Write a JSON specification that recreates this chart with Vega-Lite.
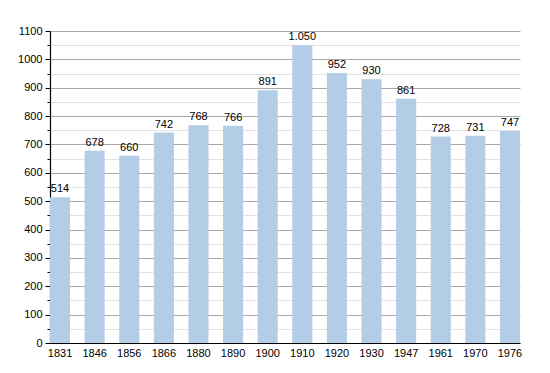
{
  "$schema": "https://vega.github.io/schema/vega-lite/v6.json",
  "width": 470,
  "height": 312,
  "autosize": {"type": "none"},
  "padding": {"left": 50, "top": 31, "right": 30, "bottom": 30},
  "background": "white",
  "config": {
    "view": {"stroke": null},
    "font": "Liberation Sans",
    "locale": {"number": {"decimal": ",", "thousands": ".", "grouping": [3], "currency": ["", ""]}}
  },
  "data": {"values": [
    {"year": "1831", "pop": 514},
    {"year": "1846", "pop": 678},
    {"year": "1856", "pop": 660},
    {"year": "1866", "pop": 742},
    {"year": "1880", "pop": 768},
    {"year": "1890", "pop": 766},
    {"year": "1900", "pop": 891},
    {"year": "1910", "pop": 1050},
    {"year": "1920", "pop": 952},
    {"year": "1930", "pop": 930},
    {"year": "1947", "pop": 861},
    {"year": "1961", "pop": 728},
    {"year": "1970", "pop": 731},
    {"year": "1976", "pop": 747}
  ]},
  "encoding": {
    "x": {"field": "year", "type": "ordinal", "sort": null,
      "scale": {"paddingInner": 0.42, "paddingOuter": 0},
      "axis": {"title": null, "labelAngle": 0, "ticks": false, "domainColor": "#000", "domainWidth": 1.2, "labelFontSize": 11, "labelColor": "#000", "labelPadding": 4, "grid": false}},
    "y": {"field": "pop", "type": "quantitative",
      "scale": {"domain": [0, 1100], "nice": false},
      "axis": {"title": null, "values": [0,50,100,150,200,250,300,350,400,450,500,550,600,650,700,750,800,850,900,950,1000,1050,1100],
        "format": "d",
        "labelExpr": "datum.value % 100 === 0 ? datum.label : ''",
        "labelFontSize": 11, "labelColor": "#000", "labelPadding": 3,
        "domainColor": "#000", "domainWidth": 1.2,
        "tickColor": "#000",
        "tickSize": {"condition": {"test": "datum.value % 100 === 0", "value": 5}, "value": 3},
        "grid": true,
        "gridColor": {"condition": {"test": "datum.value % 100 === 0", "value": "#a8a8a8"}, "value": "#e2e2e2"},
        "gridWidth": 1}}
  },
  "layer": [
    {"mark": {"type": "bar", "color": "#b3cde6"}},
    {"mark": {"type": "text", "baseline": "bottom", "dy": -3, "fontSize": 11, "color": "#000"},
     "encoding": {"text": {"field": "pop", "type": "quantitative", "format": ",d"}}}
  ]
}
